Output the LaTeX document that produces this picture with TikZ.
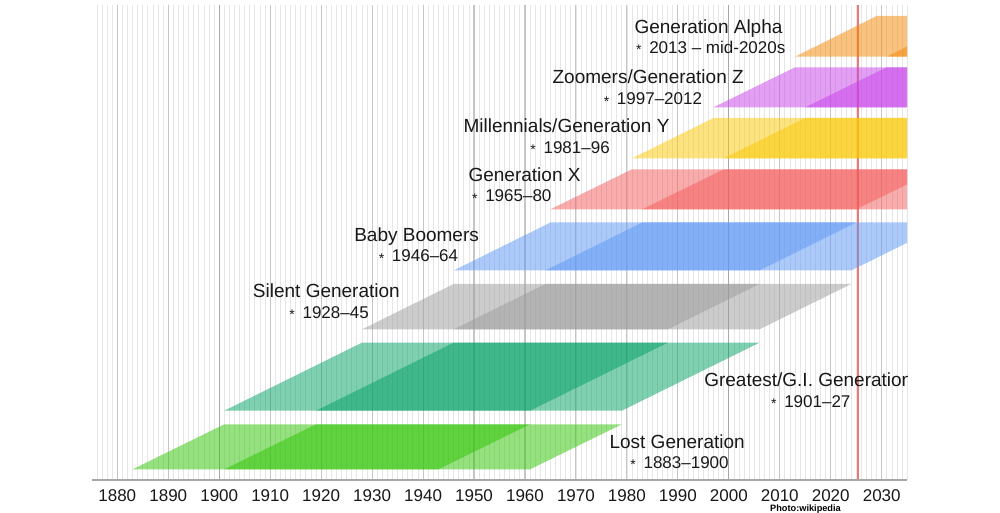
\documentclass[tikz,border=0pt]{standalone}
\usepackage{fontspec}
\setmainfont{Liberation Sans}
\newcommand\yx[1]{117.3+5.096*(#1-1880)}
\definecolor{minorc}{RGB}{230,230,230}
\definecolor{decc}{RGB}{198,198,198}
\definecolor{centc}{RGB}{168,168,168}
\definecolor{nowc}{RGB}{236,120,120}
\definecolor{lostc}{RGB}{45,197,0}
\definecolor{gic}{RGB}{0,160,100}
\definecolor{silc}{RGB}{155,155,155}
\definecolor{boomc}{RGB}{90,150,245}
\definecolor{xc}{RGB}{245,90,90}
\definecolor{yc}{RGB}{251,201,0}
\definecolor{zc}{RGB}{200,65,235}
\definecolor{alc}{RGB}{245,135,0}
\newcommand\genband[5]{%
  \fill[#1, fill opacity=0.5] ({\yx{#2}},#4) -- ({\yx{#2+60}},#4) -- ({\yx{#3+60}},#5) -- ({\yx{#3}},#5) -- cycle;
  \fill[#1, fill opacity=0.5] ({\yx{#2+18}},#4) -- ({\yx{#2+78}},#4) -- ({\yx{#3+78}},#5) -- ({\yx{#3+18}},#5) -- cycle;}
\newcommand\gstar{\llap{\raisebox{-1.2pt}{\fontsize{10.5pt}{10.5pt}\selectfont *}\hspace{5.8pt}}}
\begin{document}
\begin{tikzpicture}[x=0.75pt,y=-0.75pt,
  title/.style={anchor=base west,inner sep=0pt,font=\fontsize{14.25pt}{17pt}\selectfont,text=black!90},
  sub/.style={anchor=base west,inner sep=0pt,font=\fontsize{12.75pt}{15pt}\selectfont,text=black!90},
  axislbl/.style={anchor=base,inner sep=0pt,font=\fontsize{12.75pt}{15pt}\selectfont,text=black!90},
  minorline/.style={draw=minorc,line width=0.6pt},
  decline/.style={draw=decc,line width=0.8pt},
  centline/.style={draw=centc,line width=0.8pt}]
\useasboundingbox (0,0) rectangle (1000,513);
\fill[white] (0,0) rectangle (1000,513);
% grid
\foreach \yr in {1876,...,2035} {\draw[minorline] ({\yx{\yr}},5) -- ({\yx{\yr}},480);}
\foreach \yr in {1880,1890,...,2030} {\draw[decline] ({\yx{\yr}},5) -- ({\yx{\yr}},480);}
\foreach \yr in {1900,2000} {\draw[centline] ({\yx{\yr}},5) -- ({\yx{\yr}},480);}
\draw[nowc,line width=1.1pt] (858,5) -- (858,480);
\coordinate (axL) at (92,480);
\coordinate (axR) at (907,480);
\draw[draw=black!35,line width=0.8pt] (axL) -- (axR);
\foreach \yr in {1880,1890,...,2030} {\node[axislbl] (lbl\yr) at ({\yx{\yr}},501.7) {\yr};}
% bands
\begin{scope}
\clip (92,0) rectangle (907,480);
\genband{lostc}{1883}{1901}{469.3}{424.3}
\genband{gic}{1901}{1928}{410.7}{342.7}
\genband{silc}{1928}{1946}{329.4}{284}
\genband{boomc}{1946}{1965}{270.5}{222.5}
\genband{xc}{1965}{1981}{209.3}{169.3}
\genband{yc}{1981}{1997}{158.3}{118}
\genband{zc}{1997}{2013}{107.3}{67.3}
\genband{alc}{2013}{2029}{56.7}{16}
% labels
\node[title] (talpha) at (634.3,33.3) {Generation Alpha};
\node[sub] (salpha) at (649,53.3) {\gstar 2013 – mid-2020s};
\node[title,anchor=base east] (tz) at (744,83.3) {Zoomers/Generation Z};
\node[sub] (sz) at (616.7,104.5) {\gstar 1997–2012};
\node[title] (ty) at (463.3,132.7) {Millennials/Generation Y};
\node[sub] (sy) at (543.3,153.3) {\gstar 1981–96};
\node[title] (tx) at (468.3,181.7) {Generation X};
\node[sub] (sx) at (485,201.7) {\gstar 1965–80};
\node[title] (tboom) at (354,241.7) {Baby Boomers};
\node[sub] (sboom) at (391.7,261.7) {\gstar 1946–64};
\node[title] (tsil) at (252.7,297.3) {Silent Generation};
\node[sub] (ssil) at (302.3,318.3) {\gstar 1928–45};
\node[title] (tgi) at (704,386.7) {Greatest/G.I. Generation};
\node[sub] (sgi) at (784,407.3) {\gstar 1901–27};
\node[title] (tlost) at (609.3,448.3) {Lost Generation};
\node[sub] (slost) at (643.3,468.3) {\gstar 1883–1900};
\end{scope}
\node[anchor=base,inner sep=0pt,font=\bfseries\fontsize{6.9pt}{7pt}\selectfont] (credit) at (805.5,511) {Photo:wikipedia};
\end{tikzpicture}
\end{document}
